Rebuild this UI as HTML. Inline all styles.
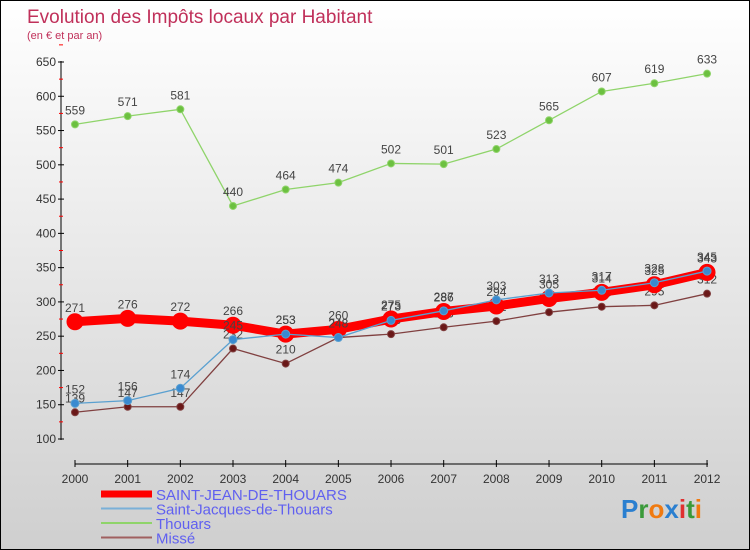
<!DOCTYPE html>
<html><head><meta charset="utf-8"><style>
body{margin:0}
#c{width:748px;height:548px;border:1px solid #000;background:linear-gradient(#fff,#cfcfcf);position:relative;font-family:"Liberation Sans",sans-serif;overflow:hidden}
</style></head><body>
<div id="c">
<svg id="s" width="748" height="548" style="position:absolute;left:0;top:0">
<text x="26" y="22" font-size="19" fill="#c0305a">Evolution des Impôts locaux par Habitant</text>
<text x="26" y="38" font-size="11" fill="#c0305a">(en € et par an)</text>
<text x="620" y="517" font-size="26" font-weight="bold"><tspan fill="#2a7fd0">P</tspan><tspan fill="#3a9a3a">r</tspan><tspan fill="#f07a10">o</tspan><tspan fill="#2a7fd0">x</tspan><tspan fill="#e03030">i</tspan><tspan fill="#3a9a3a">t</tspan><tspan fill="#f07a10">i</tspan></text>
</svg>
</div>
<script>
const years=["2000","2001","2002","2003","2004","2005","2006","2007","2008","2009","2010","2011","2012"];
const yTicks=[100,150,200,250,300,350,400,450,500,550,600,650];
const sjt=[271,276,272,266,253,260,275,286,294,305,314,325,343];
const sjdt=[152,156,174,245,253,248,273,287,303,313,317,328,345];
const thouars=[559,571,581,440,464,474,502,501,523,565,607,619,633];
const misse=[139,147,147,232,210,248,253,263,272,285,293,295,312];
const s=document.getElementById('s');const NS='http://www.w3.org/2000/svg';
function X(i){return 74+i*52.67}
function Y(v){return 438-(v-100)*(377/550)}
function mk(t,a,p){const e=document.createElementNS(NS,t);for(const k in a)e.setAttribute(k,a[k]);(p||s).appendChild(e);return e}
let ax=mk('line',{x1:60,y1:60,x2:60,y2:439,stroke:'#000'});


yTicks.forEach(v=>{mk('line',{x1:57,x2:63,y1:Y(v),y2:Y(v),stroke:'#000'});
mk('line',{x1:58,x2:62,y1:Y(v+25),y2:Y(v+25),stroke:'#f00'});
let t=mk('text',{x:55,y:Y(v)+4,'font-size':12,'text-anchor':'end',fill:'#333'});t.textContent=v;

});
let xa=mk('line',{x1:74,y1:463,x2:707,y2:463,stroke:'#000'});


years.forEach((y,i)=>{mk('line',{x1:X(i),x2:X(i),y1:459,y2:466,stroke:'#000'});
let t=mk('text',{x:X(i),y:482,'font-size':12,'text-anchor':'middle',fill:'#333'});t.textContent=y;

});
function series(d,col,w,r,fill,name){const g=mk('g',{});


mk('polyline',{points:d.map((v,i)=>X(i)+','+Y(v)).join(' '),fill:'none',stroke:col,'stroke-width':w},g);
d.forEach((v,i)=>{const c=mk('circle',{cx:X(i),cy:Y(v),r:r,fill:fill,stroke:col},g);


const t=mk('text',{x:X(i),y:Y(v)-10,'font-size':12,'text-anchor':'middle',fill:'#444'},g);t.textContent=v;});}
series(thouars,'#8fd46a',1.3,3.5,'#6cc040','thouars');
series(misse,'#804040',1.3,3.5,'#6a1818','misse');
series(sjt,'#f00',9,8,'#f00','saint-jean-de-thouars');
series(sjdt,'#5aa0d0',1.3,4,'#3a8ad0','saint-jacques-de-thouars');
const leg=[["SAINT-JEAN-DE-THOUARS",'#f00',7],["Saint-Jacques-de-Thouars",'#7ab0d8',2],["Thouars",'#8fd46a',2],["Missé",'#a06060',2]];
leg.forEach((l,i)=>{const y=493+i*14.5;const g=mk('g',{});


mk('line',{x1:100,x2:151,y1:y,y2:y,stroke:l[1],'stroke-width':l[2]},g);
const t=mk('text',{x:155,y:y+6,'font-size':15,fill:'#6060f0'},g);t.textContent=l[0];});
</script>
</body></html>
